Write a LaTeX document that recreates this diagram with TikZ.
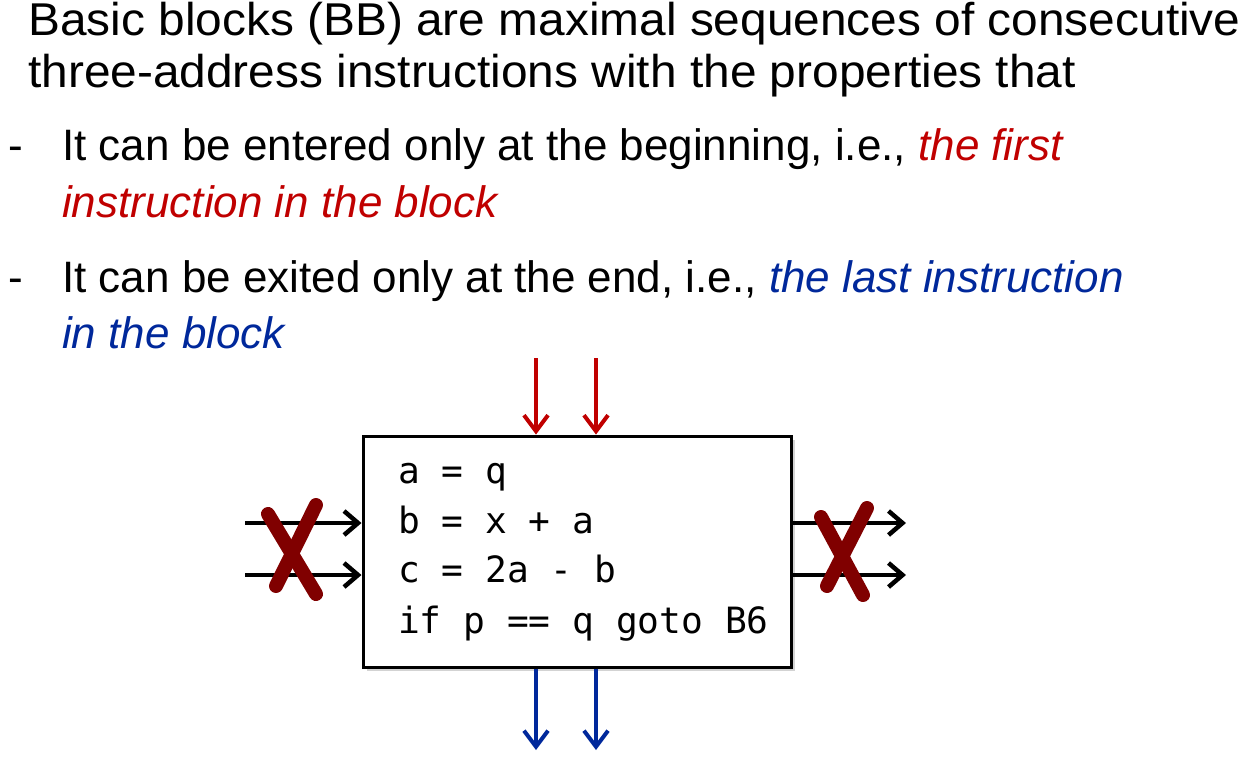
\documentclass[tikz,border=0pt]{standalone}
\usepackage{fontspec}
\setmainfont{Liberation Sans}
\newfontfamily\titlefont[FakeStretch=1.04]{Liberation Sans}
\newfontfamily\codefont{DejaVu Sans Mono}
\usetikzlibrary{arrows.meta,shadows}
\definecolor{hlred}{RGB}{192,0,0}
\definecolor{hlblue}{RGB}{0,40,155}
\definecolor{xred}{RGB}{128,0,0}
\tikzset{
  title/.style={anchor=base west,inner sep=0pt,font=\titlefont\fontsize{46}{52}\selectfont},
  bullet/.style={anchor=base west,inner sep=0pt,font=\fontsize{44}{52}\selectfont},
  code/.style={anchor=base west,inner sep=0pt,font=\codefont\fontsize{36.2}{44}\selectfont},
  bbox/.style={draw=black,line width=3pt,fill=white,minimum width=428pt,minimum height=231pt,inner sep=0pt,
    drop shadow={opacity=0.35,shadow xshift=4pt,shadow yshift=-4pt}},
  inarrow/.style={draw=hlred,line width=4pt,-{Straight Barb[length=16pt,width=24pt,line width=4pt]}},
  outarrow/.style={draw=hlblue,line width=4pt,-{Straight Barb[length=16pt,width=24pt,line width=4pt]}},
  sidearrow/.style={draw=black,line width=4.5pt,-{Straight Barb[length=14pt,width=24pt,line width=4.5pt]}},
  cross/.style={draw=xred,line width=14pt,line cap=round},
}
\begin{document}
\begin{tikzpicture}[x=1pt,y=-1pt]
\useasboundingbox (0,0) rectangle (1248,756);
\node[title] (t1) at (28,35) {Basic blocks (BB) are maximal sequences of consecutive};
\node[title] (t2) at (28,87) {three-address instructions with the properties that};
\node[bullet] (d1) at (8,160) {-};
\node[bullet] (b1) at (62,160) {It can be entered only at the beginning, i.e., \textcolor{hlred}{\itshape the first}};
\node[bullet,text=hlred] (b1b) at (62,217) {\itshape instruction in the block};
\node[bullet] (d2) at (8,292) {-};
\node[bullet] (b2) at (62,292) {It can be exited only at the end, i.e., \textcolor{hlblue}{\itshape the last instruction}};
\node[bullet,text=hlblue] (b2b) at (62,348) {\itshape in the block};

\node[bbox] (box) at (577,551.5) {};
\node[code] (c1) at (398,483) {a = q};
\node[code] (c2) at (398,533) {b = x + a};
\node[code] (c3) at (398,582) {c = 2a - b};
\node[code] (c4) at (398,633) {if p == q goto B6};

\coordinate (ri1) at (536,358);
\coordinate (ri2) at (596,358);
\draw[inarrow] (ri1) -- (ri1 |- box.north);
\draw[inarrow] (ri2) -- (ri2 |- box.north);
\coordinate (bo1) at (536,750);
\coordinate (bo2) at (596,750);
\draw[outarrow] (bo1 |- box.south) -- (bo1);
\draw[outarrow] (bo2 |- box.south) -- (bo2);

\coordinate (li1) at (245,523);
\coordinate (li2) at (245,575);
\draw[sidearrow] (li1) -- (li1 -| box.west);
\draw[sidearrow] (li2) -- (li2 -| box.west);
\coordinate (ro1) at (906,523);
\coordinate (ro2) at (906,575);
\draw[sidearrow] (ro1 -| box.east) -- (ro1);
\draw[sidearrow] (ro2 -| box.east) -- (ro2);

\draw[cross] (268,514) -- (316,594);
\draw[cross] (316,505) -- (276,586);
\draw[cross] (821,517) -- (863,595);
\draw[cross] (867,508) -- (827,586);
\end{tikzpicture}
\end{document}
